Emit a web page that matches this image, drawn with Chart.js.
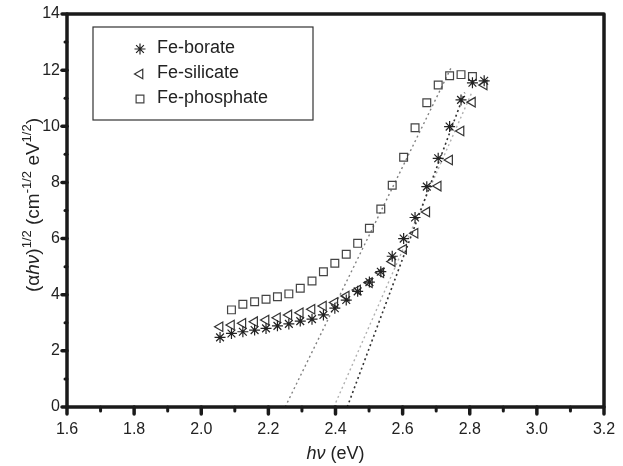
<!DOCTYPE html>
<html lang="en">
<head>
    <meta charset="UTF-8">
    <title>Tauc plot</title>
    <script src="https://cdn.jsdelivr.net/npm/chart.js"></script>
    <style>
        body {
            margin: 0;
            padding: 0;
            background-color: #fff;
        }
        #wrap {
            width: 623px;
            height: 466px;
        }
    </style>
</head>
<body>
    <div id="wrap">
        <canvas id="tauc" width="623" height="466"></canvas>
    </div>

    <script>
        // photon energy (eV) for borate / silicate
        const hv = [2.056, 2.090, 2.124, 2.159, 2.193, 2.227, 2.261, 2.295, 2.330, 2.364, 2.398, 2.432,
                    2.466, 2.501, 2.535, 2.569, 2.603, 2.637, 2.672, 2.706, 2.740, 2.774, 2.808, 2.843];
        // phosphate starts one step later and stops one step earlier
        const hvPhosphate = [2.090, 2.124, 2.159, 2.193, 2.227, 2.261, 2.295, 2.330, 2.364, 2.398, 2.432,
                    2.466, 2.501, 2.535, 2.569, 2.603, 2.637, 2.672, 2.706, 2.740, 2.774, 2.808];

        const borate = [2.48, 2.62, 2.68, 2.74, 2.80, 2.89, 2.96, 3.06, 3.13, 3.28, 3.52, 3.81,
                        4.12, 4.45, 4.82, 5.37, 6.00, 6.75, 7.85, 8.86, 9.99, 10.94, 11.55, 11.62];
        const silicate = [2.86, 2.92, 2.98, 3.04, 3.10, 3.18, 3.28, 3.36, 3.48, 3.60, 3.72, 3.95,
                          4.17, 4.43, 4.78, 5.18, 5.62, 6.19, 6.95, 7.87, 8.80, 9.83, 10.86, 11.47];
        const phosphate = [3.46, 3.66, 3.75, 3.84, 3.93, 4.03, 4.23, 4.49, 4.82, 5.12, 5.44,
                           5.83, 6.37, 7.05, 7.90, 8.90, 9.95, 10.84, 11.47, 11.80, 11.84, 11.77];

        // dotted extrapolation lines (end points)
        const fitBorateX = [2.435, 2.785];
        const fitBorateY = [0, 11.2];
        const fitSilicateX = [2.395, 2.806];
        const fitSilicateY = [0, 11.2];
        const fitPhosphateX = [2.25, 2.745];
        const fitPhosphateY = [0, 12.1];

        const seriesNames = ['Fe-borate', 'Fe-silicate', 'Fe-phosphate'];
        const xTicks = [1.6, 1.8, 2.0, 2.2, 2.4, 2.6, 2.8, 3.0, 3.2];
        const yTicks = [0, 2, 4, 6, 8, 10, 12, 14];

        const FONT = '"Liberation Sans", Arial, Helvetica, sans-serif';

        function pts(xs, ys) {
            return xs.map((x, i) => ({ x: x, y: ys[i] }));
        }

        // frame, outward ticks (major + minor)
        const framePlugin = {
            id: 'frame',
            afterDraw(chart) {
                const ctx = chart.ctx;
                const a = chart.chartArea;
                const xs = chart.scales.x, ys = chart.scales.y;
                ctx.save();
                ctx.strokeStyle = '#1a1a1a';
                ctx.lineCap = 'round';
                // minor ticks
                ctx.lineWidth = 3;
                for (let i = 0; i < xTicks.length - 1; i++) {
                    const px = xs.getPixelForValue((xTicks[i] + xTicks[i + 1]) / 2);
                    ctx.beginPath(); ctx.moveTo(px, a.bottom); ctx.lineTo(px, a.bottom + 4); ctx.stroke();
                }
                for (let i = 0; i < yTicks.length - 1; i++) {
                    const py = ys.getPixelForValue((yTicks[i] + yTicks[i + 1]) / 2);
                    ctx.beginPath(); ctx.moveTo(a.left, py); ctx.lineTo(a.left - 2, py); ctx.stroke();
                }
                // major ticks
                ctx.lineWidth = 3.5;
                xTicks.forEach(v => {
                    const px = xs.getPixelForValue(v);
                    ctx.beginPath(); ctx.moveTo(px, a.bottom); ctx.lineTo(px, a.bottom + 7); ctx.stroke();
                });
                yTicks.forEach(v => {
                    const py = ys.getPixelForValue(v);
                    ctx.beginPath(); ctx.moveTo(a.left, py); ctx.lineTo(a.left - 5, py); ctx.stroke();
                });
                // box
                ctx.lineWidth = 3.5;
                ctx.lineJoin = 'round';
                ctx.strokeRect(a.left, a.top, a.right - a.left, a.bottom - a.top);
                ctx.restore();
            }
        };

        // axis titles with italic h nu and superscripts
        function drawRuns(ctx, runs, cx, cy) {
            let total = 0;
            runs.forEach(r => {
                ctx.font = r.font;
                r.w = ctx.measureText(r.t).width;
                total += r.w;
            });
            let x = cx - total / 2;
            runs.forEach(r => {
                ctx.font = r.font;
                ctx.fillText(r.t, x, cy + (r.dy || 0));
                x += r.w;
            });
        }

        const titlesPlugin = {
            id: 'titles',
            afterDraw(chart) {
                const ctx = chart.ctx;
                const a = chart.chartArea;
                ctx.save();
                ctx.fillStyle = '#222';
                ctx.textBaseline = 'alphabetic';
                const N = '18px ' + FONT, I = 'italic 18px ' + FONT;
                drawRuns(ctx, [
                    { t: 'h', font: I }, { t: 'ν', font: I }, { t: ' (eV)', font: N }
                ], (a.left + a.right) / 2, 459);

                const N2 = '19px ' + FONT, I2 = 'italic 19px ' + FONT, S2 = '13px ' + FONT;
                ctx.translate(33, 205);
                ctx.rotate(-Math.PI / 2);
                drawRuns(ctx, [
                    { t: '(α', font: N2 }, { t: 'hν', font: I2 }, { t: ')', font: N2 },
                    { t: '1/2', font: S2, dy: -8 },
                    { t: ' (cm', font: N2 }, { t: '-1/2', font: S2, dy: -8 },
                    { t: ' eV', font: N2 }, { t: '1/2', font: S2, dy: -8 },
                    { t: ')', font: N2 }
                ], 0, 6);
                ctx.restore();
            }
        };

        // boxed legend in the upper left corner
        const legendPlugin = {
            id: 'boxLegend',
            afterDraw(chart) {
                const ctx = chart.ctx;
                ctx.save();
                ctx.strokeStyle = '#333';
                ctx.lineWidth = 1.2;
                ctx.strokeRect(93, 27, 220, 93);
                ctx.font = '18px ' + FONT;
                ctx.textBaseline = 'middle';
                seriesNames.forEach((name, i) => {
                    const ds = chart.data.datasets[i];
                    const y = 48 + i * 25;
                    ctx.strokeStyle = ds.borderColor;
                    ctx.fillStyle = 'rgba(0,0,0,0)';
                    ctx.lineWidth = ds.pointBorderWidth;
                    if (Chart.helpers && Chart.helpers.drawPoint) {
                        Chart.helpers.drawPoint(ctx, {
                            pointStyle: ds.pointStyle,
                            rotation: ds.pointRotation || 0,
                            radius: ds.pointRadius,
                            borderWidth: ds.pointBorderWidth
                        }, 140, y + 1);
                    }
                    ctx.fillStyle = '#222';
                    ctx.fillText(name, 157, y);
                });
                ctx.restore();
            }
        };

        const dotted = (color, width) => ({
            type: 'line',
            showLine: true,
            borderColor: color,
            borderWidth: width,
            borderDash: [2, 3],
            pointRadius: 0,
            fill: false
        });

        const ctx = document.getElementById('tauc').getContext('2d');
        new Chart(ctx, {
            type: 'scatter',
            data: {
                datasets: [{
                    label: seriesNames[0],
                    data: pts(hv, borate),
                    pointStyle: 'star',
                    pointRadius: 5.5,
                    pointBorderWidth: 1.2,
                    borderColor: '#222',
                    backgroundColor: 'transparent'
                }, {
                    label: seriesNames[1],
                    data: pts(hv, silicate),
                    pointStyle: 'triangle',
                    pointRotation: 270,
                    pointRadius: 5.5,
                    pointBorderWidth: 1.2,
                    borderColor: '#333',
                    backgroundColor: 'transparent'
                }, {
                    label: seriesNames[2],
                    data: pts(hvPhosphate, phosphate),
                    pointStyle: 'rect',
                    pointRadius: 5.5,
                    pointBorderWidth: 1.2,
                    borderColor: '#444',
                    backgroundColor: 'transparent'
                },
                Object.assign({ label: 'fit-borate', data: pts(fitBorateX, fitBorateY) }, dotted('#333', 1.6)),
                Object.assign({ label: 'fit-silicate', data: pts(fitSilicateX, fitSilicateY) }, dotted('#b0b0b0', 1.4)),
                Object.assign({ label: 'fit-phosphate', data: pts(fitPhosphateX, fitPhosphateY) }, dotted('#808080', 1.4))
                ]
            },
            options: {
                responsive: false,
                animation: false,
                devicePixelRatio: 1,
                layout: { padding: { top: 14, right: 19, left: 0, bottom: 0 } },
                plugins: {
                    legend: { display: false },
                    tooltip: { enabled: false }
                },
                scales: {
                    x: {
                        type: 'linear',
                        min: 1.6,
                        max: 3.2,
                        afterFit: s => { s.height = 59; s.paddingLeft = 0; s.paddingRight = 0; },
                        afterBuildTicks: s => { s.ticks = xTicks.map(v => ({ value: v })); },
                        grid: { display: false, drawTicks: false },
                        border: { display: false },
                        ticks: {
                            padding: 13,
                            maxRotation: 0,
                            color: '#222',
                            font: { family: FONT, size: 16 },
                            callback: v => Number(v).toFixed(1)
                        }
                    },
                    y: {
                        type: 'linear',
                        min: 0,
                        max: 14,
                        afterFit: s => { s.width = 67; s.paddingTop = 0; s.paddingBottom = 0; },
                        afterBuildTicks: s => { s.ticks = yTicks.map(v => ({ value: v })); },
                        grid: { display: false, drawTicks: false },
                        border: { display: false },
                        ticks: {
                            padding: 7,
                            color: '#222',
                            font: { family: FONT, size: 16 },
                            callback: v => String(v)
                        }
                    }
                }
            },
            plugins: [framePlugin, titlesPlugin, legendPlugin]
        });
    </script>
</body>
</html>
